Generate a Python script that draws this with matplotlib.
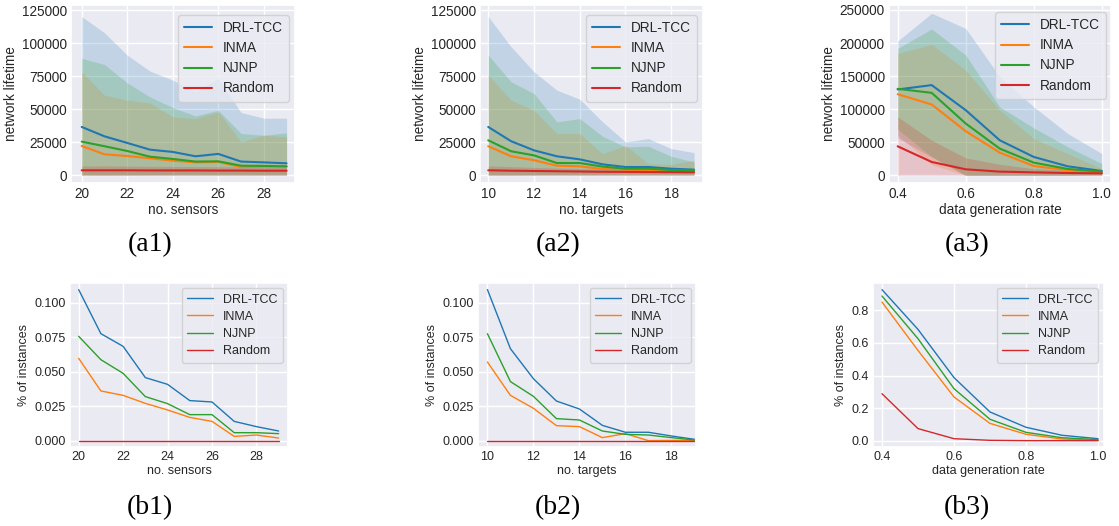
import numpy as np
import matplotlib
matplotlib.use("Agg")
import matplotlib.pyplot as plt
import seaborn as sns

sns.set_theme(style="darkgrid", palette="tab10")
plt.rcParams['font.family'] = ['Liberation Sans', 'DejaVu Sans']

methods = ['DRL-TCC', 'INMA', 'NJNP', 'Random']
colors = ['#1f77b4', '#ff7f0e', '#2ca02c', '#d62728']

# --- network lifetime vs no. sensors (a1)
sensors = np.arange(20, 30)
life_sens_mean = {
    'DRL-TCC': [36600, 29500, 24500, 19400, 17700, 14400, 16200, 10400, 9800, 9100],
    'INMA':    [22200, 15900, 14600, 12900, 11100, 9800, 10100, 6300, 6600, 6600],
    'NJNP':    [25500, 22000, 18400, 14100, 12400, 10400, 10600, 7300, 7100, 6800],
    'Random':  [3800, 3800, 3800, 3700, 3700, 3700, 3600, 3600, 3500, 3500],
}
life_sens_upper = {
    'DRL-TCC': [120000, 107800, 90900, 78800, 72000, 63100, 73200, 47500, 43200, 43200],
    'INMA':    [78300, 60600, 56800, 54800, 44200, 42900, 48000, 25300, 30300, 29000],
    'NJNP':    [88400, 83800, 69900, 59300, 51300, 44900, 49200, 31600, 30300, 32100],
    'Random':  [7000, 7200, 7000, 6800, 6700, 6600, 6500, 6400, 6300, 6200],
}

# --- network lifetime vs no. targets (a2)
targets = np.arange(10, 20)
life_targ_mean = {
    'DRL-TCC': [36600, 25800, 18900, 14400, 12100, 8300, 6300, 6300, 5000, 4300],
    'INMA':    [22000, 14400, 11400, 7300, 6800, 4800, 4300, 3800, 3000, 3000],
    'NJNP':    [26500, 18200, 15100, 9300, 9300, 6600, 5000, 5000, 4000, 3800],
    'Random':  [3800, 3500, 3300, 3100, 2900, 2700, 2600, 2500, 2400, 2300],
}
life_targ_upper = {
    'DRL-TCC': [120000, 97200, 78300, 64400, 57600, 40400, 25300, 27800, 20200, 17200],
    'INMA':    [75800, 56800, 49200, 31600, 31600, 16400, 22700, 8800, 8300, 11400],
    'NJNP':    [90900, 70700, 61900, 40400, 42900, 29500, 21500, 22000, 14400, 10100],
    'Random':  [7100, 6600, 6000, 5500, 5100, 4700, 4400, 4200, 4000, 3800],
}

# --- network lifetime vs data generation rate (a3)
rates = np.array([0.4, 0.5, 0.6, 0.7, 0.8, 0.9, 1.0])
life_rate_mean = {
    'DRL-TCC': [129800, 136400, 98500, 53000, 27800, 13600, 6600],
    'INMA':    [122700, 107100, 66700, 34300, 14100, 7600, 3500],
    'NJNP':    [130800, 124700, 78300, 40400, 19200, 9600, 5600],
    'Random':  [43900, 20200, 9100, 5600, 4500, 3500, 3000],
}
life_rate_upper = {
    'DRL-TCC': [203000, 245000, 222000, 149000, 103500, 63100, 32800],
    'INMA':    [184300, 197900, 159100, 98500, 55500, 32800, 10100],
    'NJNP':    [191900, 221200, 181800, 103500, 71700, 42900, 17700],
    'Random':  [88400, 53000, 26300, 16700, 10100, 7600, 5000],
}

# --- % of instances (b1, b2, b3)
pct_sens = {
    'DRL-TCC': [0.1097, 0.0777, 0.0685, 0.0458, 0.0409, 0.0291, 0.0281, 0.0140, 0.0102, 0.0070],
    'INMA':    [0.0598, 0.0361, 0.0329, 0.0271, 0.0223, 0.0169, 0.0140, 0.0031, 0.0041, 0.0019],
    'NJNP':    [0.0758, 0.0588, 0.0489, 0.0320, 0.0269, 0.0189, 0.0189, 0.0058, 0.0058, 0.0051],
    'Random':  [0, 0, 0, 0, 0, 0, 0, 0, 0, 0],
}
pct_targ = {
    'DRL-TCC': [0.1097, 0.0668, 0.0450, 0.0288, 0.0230, 0.0111, 0.0061, 0.0061, 0.0034, 0.0010],
    'INMA':    [0.0571, 0.0329, 0.0235, 0.0109, 0.0102, 0.0022, 0.0051, 0.0, 0.0002, 0.0002],
    'NJNP':    [0.0777, 0.0429, 0.0322, 0.0160, 0.0150, 0.0070, 0.0046, 0.0041, 0.0022, 0.0005],
    'Random':  [0, 0, 0, 0, 0, 0, 0, 0, 0, 0],
}
pct_rate = {
    'DRL-TCC': [0.927, 0.683, 0.387, 0.176, 0.082, 0.033, 0.012],
    'INMA':    [0.851, 0.554, 0.268, 0.106, 0.039, 0.010, 0.002],
    'NJNP':    [0.888, 0.626, 0.319, 0.131, 0.051, 0.018, 0.006],
    'Random':  [0.288, 0.074, 0.012, 0.002, 0.0, 0.0, 0.0],
}

W, H = 1119, 526
fig = plt.figure(figsize=(W / 100, H / 100), dpi=100)
fig.patch.set_facecolor('white')


def px_axes(x0, y0, x1, y1):
    # pixel box (top-left origin) -> figure axes
    return fig.add_axes([x0 / W, 1 - y1 / H, (x1 - x0) / W, (y1 - y0) / H])


def lifetime_panel(box, x, means, uppers, xlabel, xlim, ylim, yticks, xticks, leg):
    ax = px_axes(*box)
    for m, c in zip(methods, colors):
        mean = np.array(means[m], dtype=float)
        up = np.array(uppers[m], dtype=float)
        low = np.maximum(2 * mean - up, 0)
        ax.fill_between(x, low, up, color=c, alpha=0.2, linewidth=0)
        ax.plot(x, mean, color=c, lw=1.5, label=m)
    ax.set_xlim(*xlim)
    ax.set_ylim(*ylim)
    ax.set_yticks(yticks)
    ax.set_xticks(xticks)
    ax.tick_params(labelsize=9.8, length=0, pad=3, colors='#262626')
    ax.set_xlabel(xlabel, fontsize=9.8, labelpad=1)
    ax.set_ylabel('network lifetime', fontsize=9.8, labelpad=3)
    ax.legend(loc='upper right', bbox_to_anchor=leg, fontsize=9.8,
              handlelength=2.05, borderaxespad=0, labelspacing=0.45,
              borderpad=0.45)
    return ax


def pct_panel(box, x, vals, xlabel, xlim, ylim, yticks, xticks, fmt, leg):
    ax = px_axes(*box)
    for m, c in zip(methods, colors):
        ax.plot(x, vals[m], color=c, lw=1.0, label=m)
    ax.set_xlim(*xlim)
    ax.set_ylim(*ylim)
    ax.set_yticks(yticks)
    ax.set_yticklabels([fmt % t for t in yticks])
    ax.set_xticks(xticks)
    ax.tick_params(labelsize=9, length=0, pad=3, colors='#262626')
    ax.set_xlabel(xlabel, fontsize=9, labelpad=1)
    ax.set_ylabel('% of instances', fontsize=9, labelpad=3)
    ax.legend(loc='upper right', bbox_to_anchor=leg, fontsize=9,
              handlelength=2.05, borderaxespad=0, labelspacing=0.42,
              borderpad=0.45)
    return ax


lifetime_panel((71, 5, 295, 183), sensors, life_sens_mean, life_sens_upper,
               'no. sensors', (19.53, 29.37), (-5800, 128800),
               np.arange(0, 125001, 25000), [20, 22, 24, 26, 28], (0.973, 0.944))
lifetime_panel((480, 5, 703, 183), targets, life_targ_mean, life_targ_upper,
               'no. targets', (9.64, 19.39), (-5800, 128800),
               np.arange(0, 125001, 25000), [10, 12, 14, 16, 18], (0.973, 0.944))
lifetime_panel((889, 5, 1111, 183), rates, life_rate_mean, life_rate_upper,
               'data generation rate', (0.3745, 1.027), (-11600, 257500),
               np.arange(0, 250001, 50000), [0.4, 0.6, 0.8, 1.0], (0.977, 0.96))

pct_panel((70, 283, 288, 447), sensors, pct_sens, 'no. sensors',
          (19.61, 29.42), (-0.0046, 0.1145),
          [0.0, 0.025, 0.05, 0.075, 0.1], [20, 22, 24, 26, 28], '%.3f',
          (0.977, 0.97))
pct_panel((478, 283, 696, 447), targets, pct_targ, 'no. targets',
          (9.59, 19.07), (-0.0046, 0.1145),
          [0.0, 0.025, 0.05, 0.075, 0.1], [10, 12, 14, 16, 18], '%.3f',
          (0.977, 0.97))
pct_panel((873, 283, 1104, 447), rates, pct_rate, 'data generation rate',
          (0.375, 1.0166), (-0.039, 0.968),
          [0.0, 0.2, 0.4, 0.6, 0.8], [0.4, 0.6, 0.8, 1.0], '%.1f',
          (0.974, 0.97))

labels = [('(a1)', 150, 245), ('(a2)', 558, 245), ('(a3)', 967, 245),
          ('(b1)', 150, 508), ('(b2)', 558, 508), ('(b3)', 967, 508)]
for txt, cx, cy in labels:
    fig.text(cx / W, 1 - cy / H, txt, ha='center', va='center',
             fontsize=20, family='Liberation Serif', color='black')

fig.savefig('out.png', dpi=100, facecolor='white')
